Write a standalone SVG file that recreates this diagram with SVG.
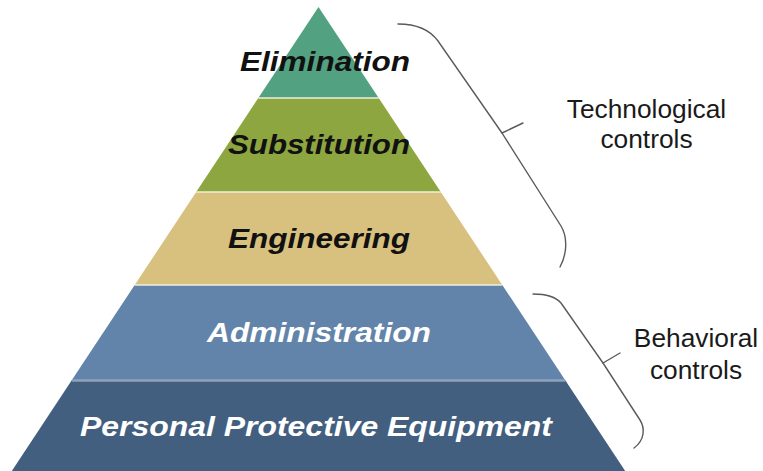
<svg xmlns="http://www.w3.org/2000/svg" width="763" height="471" viewBox="0 0 763 471">
  <style>
    .lvl { font-family: "Liberation Sans", Arial, sans-serif; font-weight: bold; font-style: italic; font-size: 27px; text-anchor: middle; }
    .dark { fill: #111111; }
    .light { fill: #ffffff; }
    .side { font-family: "Liberation Sans", Arial, sans-serif; font-size: 26.3px; fill: #1a1a1a; text-anchor: middle; }
    .brace { fill: none; stroke: #5a5a5a; stroke-width: 1.4; stroke-linecap: round; stroke-linejoin: round; }
    .sep { stroke: #eeeedd; stroke-width: 1.5; }
  </style>
  <rect width="763" height="471" fill="#ffffff"/>

  <g id="elimination">
    <polygon points="318.5,7 378.7,98 258.3,98" fill="#52a180"/>
    <text class="lvl dark" x="325" y="71" textLength="170" lengthAdjust="spacingAndGlyphs">Elimination</text>
  </g>
  <g id="substitution">
    <polygon points="258.3,98 378.7,98 440.8,192 196.2,192" fill="#8ea63f"/>
    <text class="lvl dark" x="319" y="154" textLength="182" lengthAdjust="spacingAndGlyphs">Substitution</text>
  </g>
  <g id="engineering">
    <polygon points="196.2,192 440.8,192 502.3,285 134.7,285" fill="#d8c17e"/>
    <text class="lvl dark" x="319" y="248" textLength="182" lengthAdjust="spacingAndGlyphs">Engineering</text>
  </g>
  <g id="administration">
    <polygon points="134.7,285 502.3,285 565.1,380 71.9,380" fill="#6384aa"/>
    <text class="lvl light" x="319" y="342" textLength="224" lengthAdjust="spacingAndGlyphs">Administration</text>
  </g>
  <g id="ppe">
    <polygon points="71.9,380 565.1,380 625.2,471 11.8,471" fill="#435f80"/>
    <text class="lvl light" x="316" y="436" textLength="472" lengthAdjust="spacingAndGlyphs">Personal Protective Equipment</text>
  </g>

  <g id="separators">
    <line class="sep" x1="258.3" y1="98" x2="378.7" y2="98"/>
    <line class="sep" x1="196.2" y1="192" x2="440.8" y2="192"/>
    <line class="sep" x1="134.7" y1="285" x2="502.3" y2="285"/>
    <line x1="71.9" y1="380.5" x2="565.1" y2="380.5" stroke="#8fa2b8" stroke-width="2.5"/>
  </g>

  <g id="connectors">
    <path class="brace" d="M398,24 C416,24 430,30 438,41 L502,133 L561,226 C567,236 568,252 560,267"/>
    <path class="brace" d="M502,133 L523,123"/>
    <path class="brace" d="M533,294 C545,294 555,296 561,303 L603,363 L640,420 C645,428 645,440 634,448"/>
    <path class="brace" d="M603,363 L620,353"/>
  </g>

  <g id="technological-label">
    <text class="side" x="646.5" y="118">Technological</text>
    <text class="side" x="646.5" y="148">controls</text>
  </g>
  <g id="behavioral-label">
    <text class="side" x="696" y="347">Behavioral</text>
    <text class="side" x="696" y="379">controls</text>
  </g>
</svg>
